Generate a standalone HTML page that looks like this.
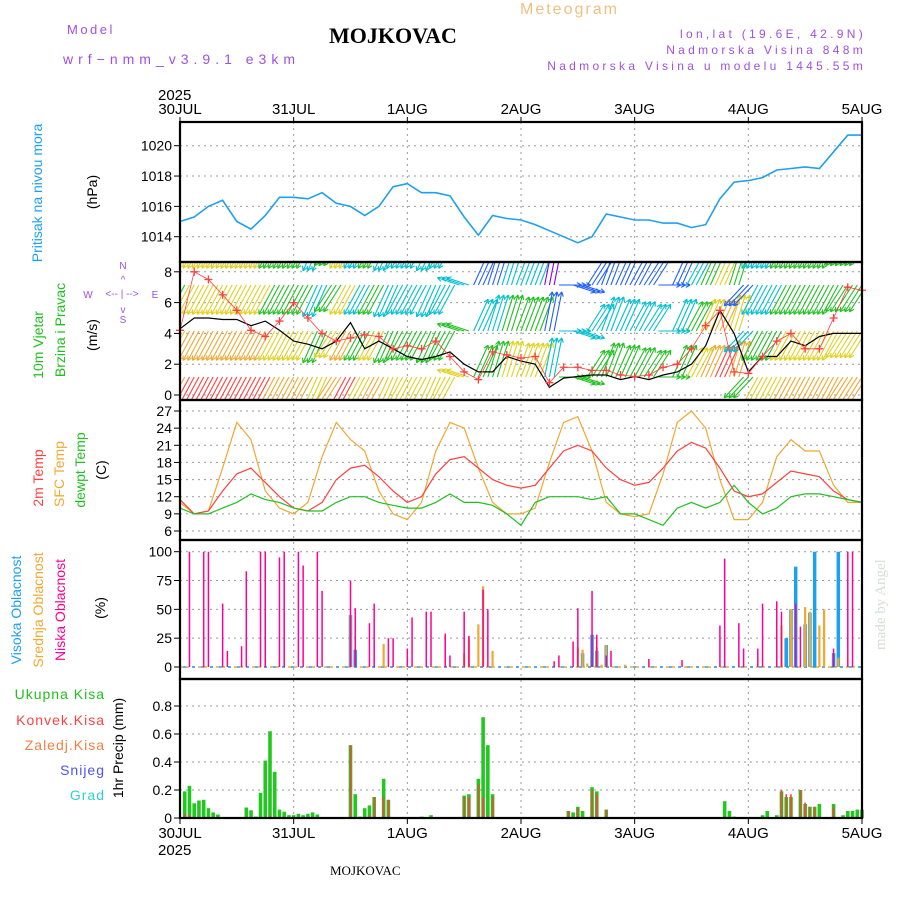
<!DOCTYPE html>
<html><head><meta charset="utf-8"><style>
html,body{margin:0;padding:0;background:#fff;width:900px;height:900px;overflow:hidden}
svg{display:block;font-family:"Liberation Sans",sans-serif}
</style></head><body>
<svg id="chart" width="900" height="900" viewBox="0 0 900 900">
<g id="hdr">
<text x="67" y="34" font-size="13" fill="#a050e0" letter-spacing="2.5">Model</text>
<text x="63" y="64" font-size="14" fill="#a050e0" letter-spacing="5">wrf−nmm_v3.9.1 e3km</text>
<text x="329" y="43" font-size="22" font-weight="bold" font-family="Liberation Serif,serif">MOJKOVAC</text>
<text x="520" y="14" font-size="16" fill="#f0c080" letter-spacing="2">Meteogram</text>
<text x="866" y="38" font-size="12" fill="#a050e0" letter-spacing="3.3" text-anchor="end">lon,lat (19.6E, 42.9N)</text>
<text x="866" y="54" font-size="12" fill="#a050e0" letter-spacing="3.3" text-anchor="end">Nadmorska Visina 848m</text>
<text x="866" y="70" font-size="12" fill="#a050e0" letter-spacing="3.3" text-anchor="end">Nadmorska Visina u modelu 1445.55m</text>
<text x="158" y="100" font-size="15">2025</text>
<text x="158" y="855" font-size="15">2025</text>
<text x="330" y="875" font-size="13" font-family="Liberation Serif,serif">MOJKOVAC</text>
<text transform="translate(885,650) rotate(-90)" font-size="15" fill="#d4e0d4" font-family="Liberation Serif,serif">made by Angel</text>
</g>
<g id="labels">
<text transform="translate(42,193) rotate(-90)" text-anchor="middle" font-size="14" fill="#1ea0f0">Pritisak na nivou mora</text>
<text transform="translate(97,192) rotate(-90)" text-anchor="middle" font-size="14">(hPa)</text>
<text transform="translate(43,345) rotate(-90)" text-anchor="middle" font-size="14" fill="#20c020">10m Vjetar</text>
<text transform="translate(65,330) rotate(-90)" text-anchor="middle" font-size="14" fill="#20c020">Brzina i Pravac</text>
<text transform="translate(97,335) rotate(-90)" text-anchor="middle" font-size="14">(m/s)</text>
<g font-size="10" fill="#a050e0" text-anchor="middle">
<text x="123" y="269">N</text><text x="88" y="298">W</text><text x="155" y="298">E</text><text x="123" y="323">S</text>
<text x="123" y="283">^</text><text x="123" y="313">v</text><text x="122" y="297">&lt;-- | --&gt;</text></g>
<text transform="translate(43,478) rotate(-90)" text-anchor="middle" font-size="14" fill="#ff4040">2m Temp</text>
<text transform="translate(64,474) rotate(-90)" text-anchor="middle" font-size="14" fill="#f0a830">SFC Temp</text>
<text transform="translate(85,470) rotate(-90)" text-anchor="middle" font-size="14" fill="#20c020">dewpt Temp</text>
<text transform="translate(106,470) rotate(-90)" text-anchor="middle" font-size="14">(C)</text>
<text transform="translate(21,610) rotate(-90)" text-anchor="middle" font-size="14" fill="#1ea0f0">Visoka Oblacnost</text>
<text transform="translate(43,610) rotate(-90)" text-anchor="middle" font-size="14" fill="#f0a830">Srednja Oblacnost</text>
<text transform="translate(65,610) rotate(-90)" text-anchor="middle" font-size="14" fill="#ff0090">Niska Oblacnost</text>
<text transform="translate(105,608) rotate(-90)" text-anchor="middle" font-size="14">(%)</text>
<g font-size="14" text-anchor="end" letter-spacing="1">
<text x="105" y="699" fill="#20c020">Ukupna  Kisa</text>
<text x="105" y="725" fill="#ff4040">Konvek.Kisa</text>
<text x="105" y="750" fill="#f08040">Zaledj.Kisa</text>
<text x="105" y="775" fill="#5050ff">Snijeg</text>
<text x="105" y="800" fill="#30d0d0">Grad</text></g>
<text transform="translate(123,748) rotate(-90)" text-anchor="middle" font-size="14">1hr Precip (mm)</text>
</g>
<g id="grid"></g>
<g id="marks"></g>
<g id="frame"></g>
</svg>
<script>
// ---- data ----
const dayLabels=["30JUL","31JUL","1AUG","2AUG","3AUG","4AUG","5AUG"];
const pressTicks=[1014,1016,1018,1020];
const windTicks=[0,2,4,6,8];
const tempTicks=[6,9,12,15,18,21,24,27];
const cloudTicks=[0,25,50,75,100];
const precipTicks=[0,0.2,0.4,0.6,0.8];
// 3-hourly series (hours 0..144)
const pressure=[1015.0,1015.3,1016.0,1016.4,1015.0,1014.5,1015.4,1016.6,1016.6,1016.5,1016.9,1016.2,1016.0,1015.4,1016.0,1017.3,1017.5,1016.9,1016.9,1016.7,1015.3,1014.1,1015.4,1015.2,1015.1,1014.8,1014.4,1014.0,1013.6,1014.0,1015.5,1015.3,1015.1,1015.1,1014.9,1014.9,1014.6,1014.8,1016.5,1017.6,1017.7,1017.9,1018.4,1018.5,1018.6,1018.5,1019.6,1020.7,1020.7];
const temp2m=[11.5,9,9.5,13,16,17,14.5,12, 10,9.5,11,15,17,17.5,15.5,13, 11,12,16,18.5,19,17,15,14, 13.5,14,17,20,21,20,17,15, 14,14.5,17,20,21.5,20.5,17,13, 12,12.5,14.5,16.5,16,15.5,13,11.5, 11];
const tempSfc=[11,9,9.5,17,25,22,13,10, 9,11,19,25,22,20,13,9, 8,11,20,25,24,17,11,9, 9,10,18,25,26,20,11,9, 8.5,9,16,25,27,24,15,8, 8,11,19,22,20,20,14,11, 11];
const tempDew=[10,9,9,10,11,12.5,11.5,11, 10,9.5,9.5,11,12,12,11,10.5, 10,10,11,12.5,11,11,10.5,9, 7,11,12,12,12,11.5,12,9, 9,8,7,10,11,10,11,14, 11,9,10,12,12.5,12.5,12,11.5, 11];
const windSpeed=[4.3,5,5,4.9,4.9,4.5,4.8,4.2, 3.5,3.3,3,3.5,4.7,3,3.5,3, 2.5,2.3,2.5,2.8,2,1.5,1.5,2.5, 2.2,2,0.5,1.1,1.2,1.3,1.3,1, 1.2,1,1.3,1.5,2,3.2,5.5,4, 1.5,2.5,2.5,3.5,3.2,3.8,4,4, 4];
const windGust=[4.2,8,7.5,6.5,5.5,4.2,3.8,4.8, 6,5,4,3.5,3.7,3.9,3.8,3, 3.2,3,3.5,2.5,1.5,1,2.8,2.6, 2.4,2.5,0.8,1.8,1.8,1.6,1.6,1.3, 1.2,1.3,1.8,2,3,4.5,5.5,1.5, 1.4,2.5,3.5,4,3,3,5,7, 6.8];
const windDir=[45,45,45,45,45,45,45,45, 45,45,40,50,45,45,45,40, 45,45,40,45,100,220,210,210, 215,215,200,270,280,230,215,220, 225,230,270,220,225,220,220,210, 60,45,45,45,45,45,45,50, 50];
// cloud bars (hour, %)
const lowHours=[2,5,6,9,10,13,14,17,18,21,22,25,26,29,30,36,37,40,41,44,45,48,49,52,53,56,57,60,61,64,65,79,80,83,84,87,88,90,91,99,106,114,115,118,119,122,123,126,127,130,131,138,141,142];
const lowVals=[100,100,100,55,14,18,83,100,100,95,100,100,88,100,66,75,51,38,55,25,25,16,43,48,48,29,10,48,27,67,50,5,10,22,51,66,28,10,14,7,6,36,94,38,16,16,55,57,48,55,35,16,100,100];
const midHours=[36,43,60,61,63,64,66,84,85,86,88,89,90,94,127,129,132,133,135,136,139];
const midVals=[45,20,12,24,37,70,14,17,15,3,17,2,19,2,36,50,52,48,36,50,8];
const highHours=[36,37,85,87,88,90,128,129,130,132,133,134,138,139];
const highVals=[45,15,12,28,14,19,25,50,87,37,47,100,12,100];
// precipitation (hour, mm)
const precipHours=[1,2,3,4,5,6,7,8,14,15,16,17,18,19,20,21,22,23,24,25,26,27,28,29,36,37,38,39,40,41,43,44,51,53,60,61,63,64,65,66,82,83,84,85,87,88,90,115,116,117,123,124,126,127,128,129,131,132,133,134,135,138,140,141,142,143,144];
const precipTotal=[.19,.23,.105,.125,.13,.07,.04,.025,.075,.055,.01,.18,.41,.62,.33,.06,.045,.02,.02,.03,.02,.03,.04,.025,.52,.17,.01,.07,.09,.15,.28,.13,.01,.02,.16,.17,.28,.72,.52,.17,.05,.04,.08,.05,.22,.19,.06,.12,.05,.01,.02,.05,.02,.19,.15,.15,.2,.1,.08,.08,.1,.1,.02,.05,.05,.06,.06];
const convHours=[1,2,19,36,40,41,43,44,60,61,63,64,65,66,82,84,87,88,90,127,128,129,131,132,133,134,138];
const convVals=[.03,.02,.02,.52,.02,.15,.15,.13,.15,.15,.24,.15,.02,.15,.05,.07,.2,.17,.06,.2,.17,.17,.2,.11,.08,.08,.08];

// ---- scales ----
const X0=180,X1=862;
const X=h=>X0+h*(X1-X0)/144;
const Yp=p=>145.7+(1020-p)*15.17;
const Yw=v=>395-v*15.4;
const Yt=t=>531-(t-6)*5.714;
const Yc=c=>667-c*1.153;
const Yr=r=>818-r*140;
const NS='http://www.w3.org/2000/svg';
function mk(tag,attrs,parent){const e=document.createElementNS(NS,tag);for(const k in attrs)e.setAttribute(k,attrs[k]);parent.appendChild(e);return e;}
const grid=document.getElementById('grid'),marks=document.getElementById('marks'),frame=document.getElementById('frame');
const panels=[[122,262],[262,400],[400,540],[540,679],[679,818]];

for(let d=1;d<6;d++){const l=mk('line',{x1:X(d*24),x2:X(d*24),y1:122,y2:818,stroke:'#999','stroke-dasharray':'2,4','stroke-width':1},grid);

}
dayLabels.forEach((s,i)=>{
 const t=mk('text',{x:X(i*24),y:114,'text-anchor':'middle','font-size':15},frame);t.textContent=s;
 
 
 const b=mk('text',{x:X(i*24),y:838,'text-anchor':'middle','font-size':15},frame);b.textContent=s;
 
 
 mk('line',{x1:X(i*24),x2:X(i*24),y1:117,y2:123,stroke:'#000'},frame);
 mk('line',{x1:X(i*24),x2:X(i*24),y1:818,y2:824,stroke:'#000'},frame);
});
function yTicks(ticks,Y,fmt,name){
 ticks.forEach(v=>{const y=Y(v);
  mk('line',{x1:X0,x2:X1,y1:y,y2:y,stroke:'#999','stroke-dasharray':'2,4'},grid);
  mk('line',{x1:X0-6,x2:X0,y1:y,y2:y,stroke:'#000'},frame);
  const t=mk('text',{x:X0-8,y:y+5,'text-anchor':'end','font-size':14},frame);t.textContent=fmt(v);
  
  });
}
yTicks(pressTicks,Yp,v=>v,'pressure-tick');
yTicks(windTicks,Yw,v=>v,'wind-tick');
yTicks(tempTicks,Yt,v=>v,'temp-tick');
yTicks(cloudTicks,Yc,v=>v,'cloud-tick');
yTicks(precipTicks,Yr,v=>v===0?'0':v.toFixed(1),'precip-tick');

function line(arr,Y,color,w,name){
 const d=arr.map((v,i)=>(i?'L':'M')+X(i*3).toFixed(1)+','+Y(v).toFixed(1)).join('');
 const p=mk('path',{d:d,fill:'none',stroke:color,'stroke-width':w},marks);
 
 
}
const defs=mk('defs',{},marks);
const cp=mk('clipPath',{id:'wclip'},defs);mk('rect',{x:X0,y:262,width:X1-X0,height:138},cp);
const wg=mk('g',{'clip-path':'url(#wclip)'},marks);


const pal=['#8000ff','#2060ff','#00c0d0','#20c020','#e0d020','#f0a830','#ff4040','#ff0090'];
const rowBase=[239,285,331,377],rowOff=[0,0,1,2];
windDir.forEach((dir,i)=>{
 const sp=windSpeed[i];
 const rad=dir*Math.PI/180;const L=32;
 const dx=-Math.sin(rad)*L*0.7,dy=Math.cos(rad)*L*1.3;
 for(let r=0;r<4;r++){
  const ci=Math.min(7,Math.max(0,Math.round(sp*0.8)+rowOff[r]));
  for(let k=-1;k<=1;k++){
   const x=X(i*3)+k*4.7,y=rowBase[r];
   const a=mk('line',{x1:x,y1:y,x2:x+dx,y2:y+dy,stroke:pal[ci],'stroke-width':1.1},wg);
   
   
   const ang=Math.atan2(dy,dx);
   mk('path',{d:`M${x+dx},${y+dy}l${(-5*Math.cos(ang-0.5)).toFixed(1)},${(-5*Math.sin(ang-0.5)).toFixed(1)}M${x+dx},${y+dy}l${(-5*Math.cos(ang+0.5)).toFixed(1)},${(-5*Math.sin(ang+0.5)).toFixed(1)}`,stroke:pal[ci],'stroke-width':1.1,fill:'none'},wg);
  }
 }
});
line(pressure,Yp,'#1ea0f0',1.6,'pressure-line');
line(windSpeed,Yw,'#000',1.2,'wind-speed-line');
line(windGust,Yw,'#ff4040',0.8,'wind-gust-line');
windGust.forEach((v,i)=>{const x=X(i*3),y=Yw(v);
 const m=mk('path',{d:`M${x-4},${y}h8M${x},${y-4}v8`,stroke:'#ff4040','stroke-width':1.3},marks);
 
 });
line(tempSfc,Yt,'#f0a830',1.2,'sfc-temp-line');
line(temp2m,Yt,'#ff4040',1.2,'t2m-line');
line(tempDew,Yt,'#20c020',1.2,'dewpoint-line');
mk('line',{x1:X0,x2:X1,y1:667,y2:667,stroke:'#f0a830','stroke-width':1.5,'stroke-dasharray':'3,3'},marks);
mk('line',{x1:X0+3,x2:X1,y1:667,y2:667,stroke:'#1ea0f0','stroke-width':1.5,'stroke-dasharray':'3,6'},marks);
function bars(hours,vals,Y,base,w,color,name){
 hours.forEach((h,i)=>{const y=Y(vals[i]);
  const r=mk('rect',{x:X(h)-w/2,y:y,width:w,height:base-y,fill:color},marks);
  
  });
}
bars(highHours,highVals,Yc,667,3.5,'#1ea0f0','high-cloud-bar');
bars(midHours,midVals,Yc,667,2.2,'#f0a830','mid-cloud-bar');
bars(lowHours,lowVals,Yc,667,1.5,'#ff0090','low-cloud-bar');
bars(precipHours,precipTotal,Yr,818,3.6,'#20c820','total-precip-bar');
bars(convHours,convVals,Yr,818,1.6,'#ff4040','conv-precip-bar');
panels.forEach(([a,b])=>{mk('rect',{x:X0,y:a,width:X1-X0,height:b-a,fill:'none',stroke:'#000','stroke-width':2.2},frame);});
</script>
</body></html>
